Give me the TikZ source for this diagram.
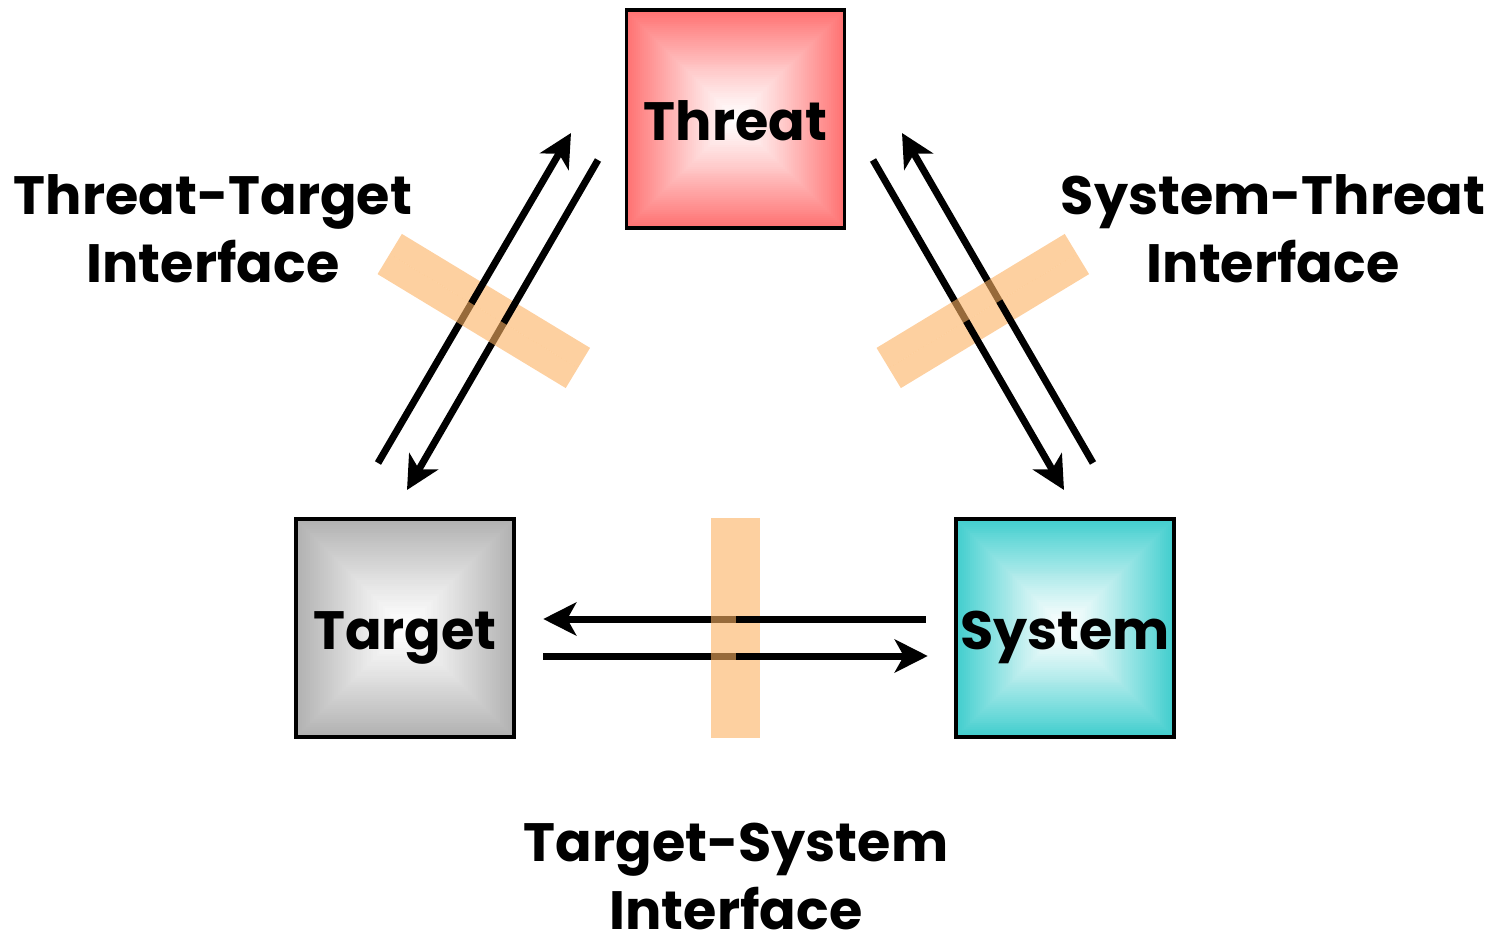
\documentclass[tikz,border=0pt]{standalone}
\usepackage{fontspec}
\setmainfont{Poppins}
\usetikzlibrary{arrows.meta}

\definecolor{threatred}{RGB}{255,112,112}
\definecolor{targetgray}{RGB}{176,176,176}
\definecolor{systemteal}{RGB}{64,206,206}
\definecolor{bandpeach}{RGB}{252,177,97}

\tikzset{
  % square box whose fill fades from its edges to white at the middle,
  % built from concentric squares
  blockbox/.style={draw=black, line width=3.5pt, minimum width=218pt, minimum height=218pt,
    inner sep=0pt, text height=42pt, text depth=0pt,
    font=\fontsize{54}{64}\selectfont\bfseries,
    path picture={
      \foreach \k in {0,...,54}{
        \pgfmathsetmacro\halfside{109*(1-\k/55)}
        \pgfmathtruncatemacro\pct{100*(1-\k/55)^1.2}
        \fill[color=#1!\pct!white] (path picture bounding box.center)
          ++(-\halfside,-\halfside) rectangle ++(2*\halfside,2*\halfside);
      }
    }},
  flow/.style={line width=7pt, -{Stealth[length=33pt,width=33pt,inset=9pt]}},
  band/.style={fill=bandpeach, fill opacity=0.6, draw=none},
  tag/.style={align=center, inner sep=0pt, text depth=0pt,
    font=\fontsize{54}{68}\selectfont\bfseries},
}

\begin{document}
\begin{tikzpicture}[x=1pt, y=-1pt]
  \useasboundingbox (0,0) rectangle (1491,939);

  % the three parties
  \node[blockbox=threatred]  (threat) at (735.5,119) {Threat};
  \node[blockbox=targetgray] (target) at (405,628)   {Target};
  \node[blockbox=systemteal] (system) at (1065,628)  {System};

  % interface bands, back halves (under the arrows)
  \begin{scope}[shift={(483.8,311)}, rotate=-31.2]
    \fill[band] (-110,-23.5) rectangle (110,0);
  \end{scope}
  \begin{scope}[shift={(982.8,311)}, rotate=31.2]
    \fill[band] (-110,0) rectangle (110,23.5);
  \end{scope}
  \fill[band] (735.5,518) rectangle (760,738);

  % interactions
  \draw[flow] ([xshift=-28.5pt,yshift=9pt]system.west) -- ([xshift=27.5pt,yshift=9pt]target.east);
  \draw[flow] ([xshift=27.5pt,yshift=-28pt]target.east) -- ([xshift=-26.5pt,yshift=-28pt]system.west);
  \draw[flow] ([xshift=-27pt,yshift=165pt]target.center) -- ([xshift=-164.5pt,yshift=-14pt]threat.center);
  \draw[flow] ([xshift=-137.5pt,yshift=-41pt]threat.center) -- ([xshift=2pt,yshift=138pt]target.center);
  \draw[flow] ([xshift=137.5pt,yshift=-41pt]threat.center) -- ([xshift=-1pt,yshift=138pt]system.center);
  \draw[flow] ([xshift=28pt,yshift=165pt]system.center) -- ([xshift=166.5pt,yshift=-14pt]threat.center);

  % interface bands, front halves (over the arrows)
  \begin{scope}[shift={(483.8,311)}, rotate=-31.2]
    \fill[band] (-110,0) rectangle (110,23.5);
  \end{scope}
  \begin{scope}[shift={(982.8,311)}, rotate=31.2]
    \fill[band] (-110,-23.5) rectangle (110,0);
  \end{scope}
  \fill[band] (711,518) rectangle (735.5,738);

  % interface labels (base = baseline of the last line)
  \node[tag, anchor=base] (ttlabel) at (213,282) {Threat-Target\\Interface};
  \node[tag, anchor=base] (stlabel) at (1273,282) {System-Threat\\Interface};
  \node[tag, anchor=base] (tslabel) at (736,929) {Target-System\\Interface};
\end{tikzpicture}
\end{document}
